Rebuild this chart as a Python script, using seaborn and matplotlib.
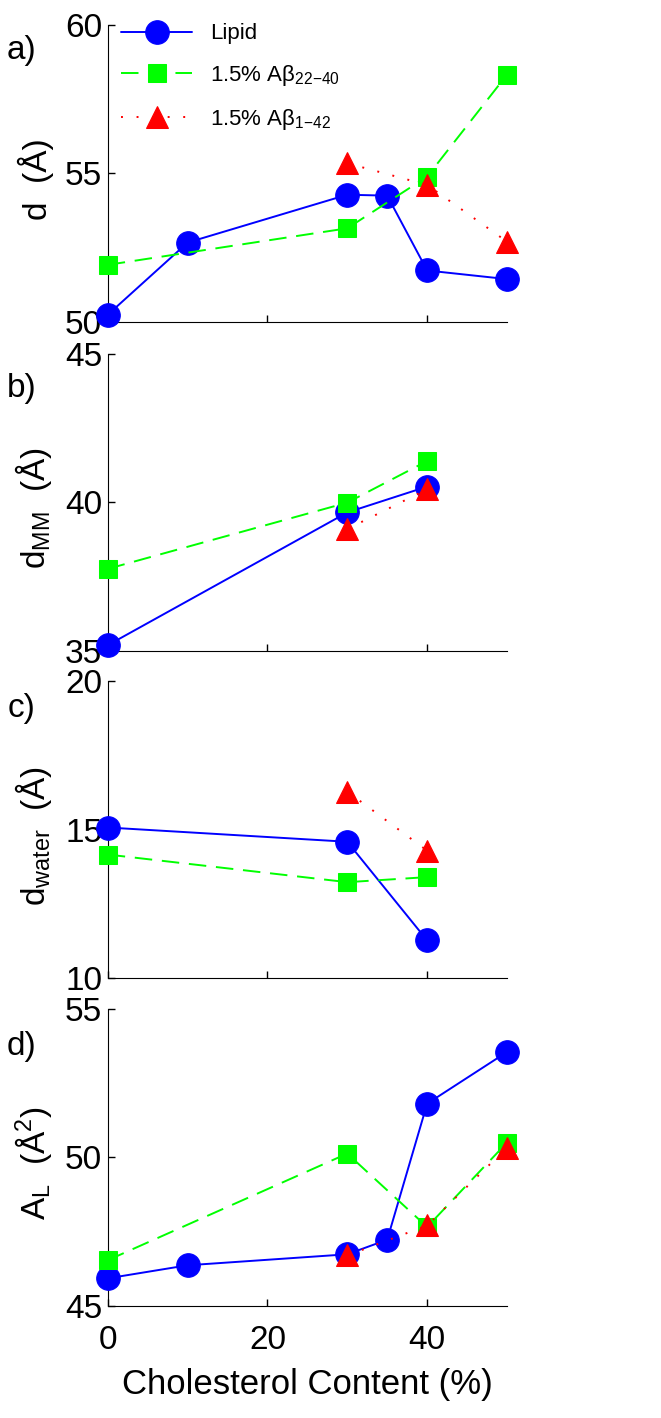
import matplotlib
matplotlib.use("Agg")
import matplotlib.pyplot as plt
import seaborn as sns
import pandas as pd

# cholesterol content (%) for each series
x_lipid = [0, 10, 30, 35, 40, 50]
x_ab2240 = [0, 30, 40, 50]
x_ab142 = [30, 40, 50]

# panel a) d (A)
d_lipid = [50.24, 52.67, 54.28, 54.25, 51.73, 51.44]
d_ab2240 = [51.92, 53.15, 54.89, 58.32]
d_ab142 = [55.34, 54.61, 52.70]

# panels b) and c) only have 0/30/40 points
x_mm_lipid = [0, 30, 40]
x_mm_ab2240 = [0, 30, 40]
x_mm_ab142 = [30, 40]

# panel b) d_MM (A)
dmm_lipid = [35.19, 39.66, 40.53]
dmm_ab2240 = [37.76, 39.99, 41.39]
dmm_ab142 = [39.10, 40.44]

# panel c) d_water (A)
dw_lipid = [15.08, 14.60, 11.28]
dw_ab2240 = [14.17, 13.24, 13.41]
dw_ab142 = [16.29, 14.30]

# panel d) A_L (A^2)
al_lipid = [45.93, 46.37, 46.74, 47.23, 51.81, 53.55]
al_ab2240 = [46.54, 50.13, 47.66, 50.50]
al_ab142 = [46.70, 47.71, 50.33]

series_names = ["Lipid", r"1.5% A$\beta_{22\mathrm{-}40}$", r"1.5% A$\beta_{1\mathrm{-}42}$"]
panel_tags = ["a)", "b)", "c)", "d)"]
ylabels = ["d  (Å)", r"d$_\mathrm{MM}$  (Å)",
           r"d$_\mathrm{water}$  (Å)", r"A$_\mathrm{L}$  (Å$^2$)"]
ylims = [(50, 60), (35, 45), (10, 20), (45, 55)]

panels = [
    [(x_lipid, d_lipid), (x_ab2240, d_ab2240), (x_ab142, d_ab142)],
    [(x_mm_lipid, dmm_lipid), (x_mm_ab2240, dmm_ab2240), (x_mm_ab142, dmm_ab142)],
    [(x_mm_lipid, dw_lipid), (x_mm_ab2240, dw_ab2240), (x_mm_ab142, dw_ab142)],
    [(x_lipid, al_lipid), (x_ab2240, al_ab2240), (x_ab142, al_ab142)],
]

styles = [
    dict(color="#0000ff", marker="o", markersize=17, linestyle="-", lw=1.4),
    dict(color="#00ff00", marker="s", markersize=13, linestyle=(0, (9, 5)), lw=1.4),
    dict(color="#ff0000", marker="^", markersize=16, linestyle=(0, (1, 7)), lw=1.4),
]

sns.set_style("ticks")
plt.rcParams["font.family"] = ["Liberation Sans", "DejaVu Sans"]
plt.rcParams["mathtext.fontset"] = "custom"
plt.rcParams["mathtext.rm"] = "Liberation Sans"
plt.rcParams["mathtext.it"] = "Liberation Sans"
plt.rcParams["mathtext.default"] = "regular"
for key in ["text.color", "axes.labelcolor", "xtick.color", "ytick.color", "axes.edgecolor"]:
    plt.rcParams[key] = "black"

fig = plt.figure(figsize=(6.61, 14.18), dpi=100)
left, width = 0.163, 0.604
bottoms = [0.773, 0.541, 0.310, 0.079]
height = 0.2095
tag_y = [50, 388, 708, 1047]

for i, data in enumerate(panels):
    ax = fig.add_axes([left, bottoms[i], width, height])
    for (xs, ys), name, st in zip(data, series_names, styles):
        df = pd.DataFrame({"x": xs, "y": ys})
        sns.lineplot(data=df, x="x", y="y", ax=ax, label=name, color=st["color"],
                     marker=st["marker"], markersize=st["markersize"],
                     markeredgecolor=st["color"], linestyle=st["linestyle"],
                     linewidth=st["lw"], clip_on=False, zorder=3)
    ax.set_xlim(0, 50)
    ax.set_ylim(*ylims[i])
    ax.set_xticks([0, 20, 40])
    ax.set_yticks([ylims[i][0], ylims[i][0] + 5, ylims[i][1]])
    ax.tick_params(direction="in", length=5, labelsize=24, width=1, pad=4)
    ax.tick_params(axis="x", pad=14)
    sns.despine(ax=ax)
    ax.set_ylabel(ylabels[i], fontsize=24)
    ax.yaxis.set_label_coords(-0.135, 0.48)
    if i < 3:
        ax.set_xticklabels([])
        ax.set_xlabel("")
    else:
        ax.set_xlabel("Cholesterol Content (%)", fontsize=25, labelpad=8)
    if i == 0:
        ax.legend(loc="upper left", bbox_to_anchor=(0.0, 1.05), frameon=False,
                  fontsize=16, handlelength=3.2, labelspacing=0.85, borderaxespad=0.2)
    else:
        ax.get_legend().remove()
    fig.text(22 / 661, 1 - tag_y[i] / 1418, panel_tags[i], fontsize=24,
             ha="center", va="center")

fig.savefig("out.png", dpi=100)
